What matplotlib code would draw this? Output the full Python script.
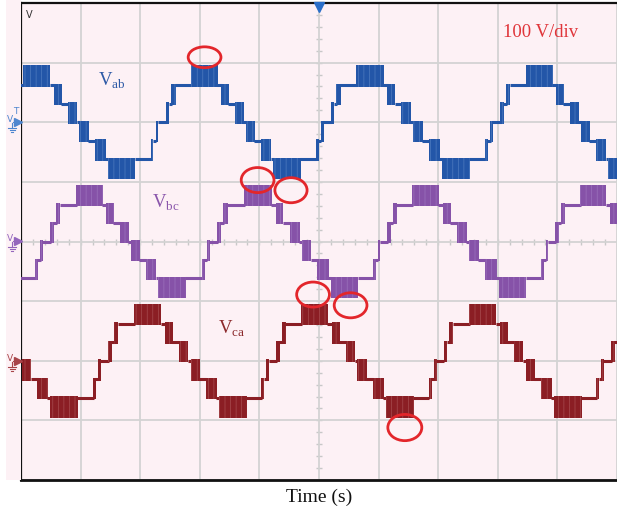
import numpy as np
import matplotlib
matplotlib.use("Agg")
import matplotlib.pyplot as plt
from matplotlib.patches import Rectangle, Ellipse

# ---------------- data (time in divisions, voltage in V, 100 V/div) -------------
level_step = 31.0            # V per converter level

vab_peaks = [0.27, 3.09, 5.86, 8.71]
vab_troughs = [-1.14, 1.69, 4.46, 7.30, 10.08]
vbc_peaks = [-1.66, 1.16, 3.98, 6.78, 9.60]
vbc_troughs = [-0.25, 2.53, 5.44, 8.26, 11.01]
vca_peaks = [-0.69, 2.13, 4.93, 7.75, 10.55]
vca_troughs = [0.72, 3.56, 6.36, 9.18]

channel_names = ["ab", "bc", "ca"]
channel_offsets = [200.0, 0.0, -200.0]     # trace ground positions (V on screen)

# staircase shape of one half-cycle (fraction of half period, lower/upper level)
fall_edges = [0.00, 0.155, 0.20, 0.29, 0.36, 0.475, 0.50, 0.61, 0.68, 0.81, 0.835, 1.00]
fall_lo = [2, 2, 1, 1, 0, 0, -1, -1, -2, -2, -3]
fall_hi = [3, 2, 2, 1, 1, 0, 0, -1, -1, -2, -2]
rise_edges = [0.00, 0.165, 0.345, 0.38, 0.405, 0.44, 0.525, 0.57, 0.595, 0.645, 0.835, 1.00]
rise_lo = [-3, -2, -2, -1, -1, 0, 0, 1, 1, 2, 2]
rise_hi = [-2, -2, -1, -1, 0, 0, 1, 1, 2, 2, 3]

# highlighted regions (centre t, centre V, width div, height V)
circle_x = [3.08, 3.97, 4.53, 4.90, 5.53, 6.44]
circle_y = [309, 103, 86, -89, -107, -312]
circle_w = [0.55, 0.55, 0.54, 0.55, 0.55, 0.57]
circle_h = [35, 42, 42, 42, 42, 44]

volts_per_div = 100
# ---------------------------------------------------------------------------------

W, H = 617, 510
DPI = 100
fig = plt.figure(figsize=(W / DPI, H / DPI), dpi=DPI)
fig.patch.set_facecolor("white")
plt.rcParams["mathtext.fontset"] = "custom"
plt.rcParams["mathtext.rm"] = "Liberation Serif"
plt.rcParams["hatch.linewidth"] = 0.5

pink = "#fdf1f5"
# left margin strip
fig.patches.append(Rectangle((6 / W, (H - 481) / H), 15 / W, 481 / H,
                             transform=fig.transFigure, facecolor=pink,
                             edgecolor="none", zorder=0))

ax = fig.add_axes([21 / W, (H - 481) / H, (W - 21) / W, 477 / H])
ax.set_facecolor(pink)
ax.set_xlim(0, 10)
ax.set_ylim(-4 * volts_per_div, 4 * volts_per_div)
ax.set_xticks(np.arange(0, 11, 1))
ax.set_yticks(np.arange(-400, 401, 100))
ax.tick_params(length=0, labelbottom=False, labelleft=False)
ax.grid(True, color="#d3d3d3", lw=1.3, zorder=0)
for s in ["left", "bottom", "top"]:
    ax.spines[s].set_color("#111111")
    ax.spines[s].set_linewidth(1.6)
ax.spines["bottom"].set_linewidth(2.0)
ax.spines["right"].set_visible(False)

# minor ticks on the central axes
ax.plot(np.full(41, 5.0), np.arange(-400, 401, 20), ls="", marker="_", ms=5,
        mew=1.0, color="#c8c8c8", zorder=1)
ax.plot(np.arange(0, 10.01, 0.2), np.zeros(51), ls="", marker="|", ms=5,
        mew=1.0, color="#c8c8c8", zorder=1)

colors = ["#2356a8", "#8652a8", "#8b1e24"]
light = ["#4f7cc0", "#9c72bd", "#a84c50"]
peaks_all = [vab_peaks, vbc_peaks, vca_peaks]
troughs_all = [vab_troughs, vbc_troughs, vca_troughs]

pad = 2.4  # V, half line thickness
for name, off, col, lc, pk, tr in zip(channel_names, channel_offsets, colors, light,
                                      peaks_all, troughs_all):
    ev = sorted([(t, "P") for t in pk] + [(t, "T") for t in tr])
    for (a, ka), (b, kb) in zip(ev[:-1], ev[1:]):
        if ka == "P":
            edges, lo, hi = fall_edges, fall_lo, fall_hi
        else:
            edges, lo, hi = rise_edges, rise_lo, rise_hi
        for i in range(len(lo)):
            t0 = a + edges[i] * (b - a)
            t1 = a + edges[i + 1] * (b - a)
            y_lo = off + lo[i] * level_step
            y_hi = off + hi[i] * level_step
            if lo[i] == hi[i]:
                ax.plot([t0 - 0.01, t1 + 0.01], [y_lo, y_lo], color=col, lw=2.2,
                        solid_capstyle="butt", zorder=3)
            else:
                ax.add_patch(Rectangle((t0, y_lo - pad), t1 - t0, y_hi - y_lo + 2 * pad,
                                       facecolor=col, edgecolor=lc, hatch="|||",
                                       lw=0, zorder=3))

# highlight ellipses
for cx, cy, cw, ch in zip(circle_x, circle_y, circle_w, circle_h):
    ax.add_patch(Ellipse((cx, cy), cw, ch, facecolor="none", edgecolor="#e3262b",
                         lw=2.0, zorder=5))

# labels
lab_pos = [(1.29, 263), (2.20, 59), (3.31, -153)]
lab_col = ["#2e5aa6", "#8a56ab", "#8c2a2c"]
for name, (lx, ly), lcname in zip(channel_names, lab_pos, lab_col):
    ax.text(lx, ly, "V$_{\\mathrm{%s}}$" % name, color=lcname, fontsize=13.5,
            family="Liberation Serif", ha="left", va="baseline", zorder=6)

ax.text(8.09, 344, "%d V/div" % volts_per_div, color="#e0353a", fontsize=13.5,
        family="Liberation Serif", ha="left", va="baseline", zorder=6)
ax.text(0.08, 376, "V", color="#333333", fontsize=7, family="DejaVu Sans",
        ha="left", va="baseline", zorder=6)

# trigger marker
ax.plot([5.0], [393], marker="v", ms=7, color="#2a6fc9", clip_on=False, zorder=7)

fig.text(319 / W, (H - 497) / H, "Time (s)", family="Liberation Serif",
         fontsize=14, ha="center", va="center", color="#111111")

# channel markers in left margin (pixel overlay)
ov = fig.add_axes([0, 0, 1, 1], zorder=10)
ov.set_xlim(0, W)
ov.set_ylim(H, 0)
ov.axis("off")
ov.patch.set_alpha(0)
mark_col = ["#4f86cf", "#9466bd", "#a8454a"]
for (off, mc, first) in zip([123, 242, 362], mark_col, [True, False, False]):
    ov.text(10, off - 1, "V", color=mc, fontsize=6.5, ha="center", va="baseline",
            family="DejaVu Sans")
    ov.plot([17.5], [off], marker=">", ms=5.5, color=mc)
    ov.plot([13, 21], [off, off], color=mc, lw=0.8)
    for k, w in enumerate([8, 5, 2]):
        ov.plot([12 - w / 2, 12 + w / 2], [off + 6 + 2 * k] * 2, color=mc, lw=0.8)
    ov.plot([12, 12], [off + 1, off + 6], color=mc, lw=0.8)
    if first:
        ov.text(16, off - 9, "T", color=mc, fontsize=6.5, ha="center",
                va="baseline", family="DejaVu Sans")

fig.savefig("out.png", dpi=DPI, facecolor="white")
